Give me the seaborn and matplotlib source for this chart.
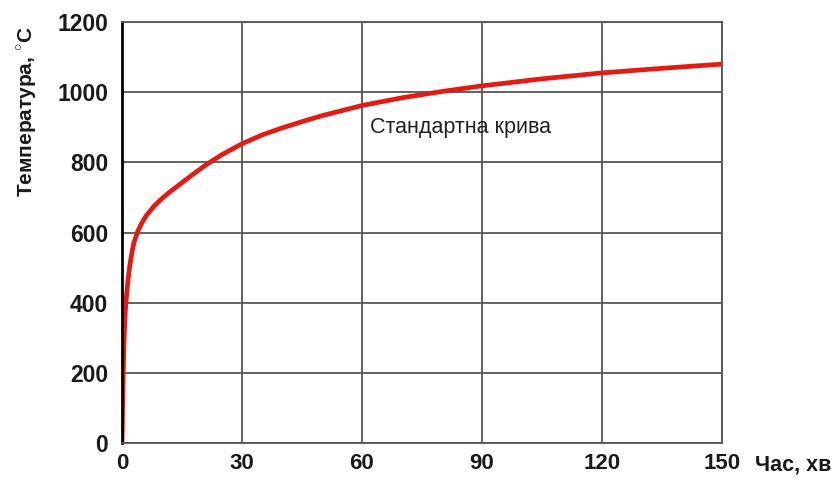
import matplotlib
matplotlib.use("Agg")
import matplotlib.pyplot as plt
import seaborn as sns
import pandas as pd
from matplotlib.ticker import MultipleLocator

time_min = [0, 0.25, 0.5, 0.75, 1, 1.5, 2, 2.5, 3, 4, 5, 6, 8, 10, 12, 15, 18, 21, 25, 30,
            35, 40, 45, 50, 60, 70, 80, 90, 105, 120, 135, 150]
temperature = [0, 170, 290, 360, 405, 465, 510, 545, 572, 605, 628, 647, 675, 697, 716, 742, 768, 793, 822, 853,
               878, 898, 916, 933, 962, 984, 1002, 1018, 1038, 1055, 1068, 1080]
x_ticks = [0, 30, 60, 90, 120, 150]
y_ticks = [0, 200, 400, 600, 800, 1000, 1200]
curve_label = "Стандартна крива"
x_label = "Час, хв"
y_label = "Температура, $^{\\circ}$C"

df = pd.DataFrame({"t": time_min, "T": temperature})

sns.set_style("white")
plt.rcParams["font.family"] = ["Liberation Sans", "DejaVu Sans"]
plt.rcParams["mathtext.fontset"] = "custom"
plt.rcParams["mathtext.rm"] = "Liberation Sans"
plt.rcParams["mathtext.bf"] = "Liberation Sans:bold"

fig = plt.figure(figsize=(8.39, 4.80), dpi=100)
ax = fig.add_axes([122 / 839, 1 - 443 / 480, 600 / 839, 421 / 480])

ax.grid(True, color="#555555", linewidth=1.3)
ax.set_axisbelow(True)
sns.lineplot(data=df, x="t", y="T", ax=ax, color="#e41b13", linewidth=3.4,
             solid_joinstyle="round", solid_capstyle="round")

ax.set_xlim(0, 150)
ax.set_ylim(0, 1200)
ax.set_xticks(x_ticks)
ax.set_yticks(y_ticks)
ax.xaxis.set_minor_locator(MultipleLocator(5))
ax.yaxis.set_minor_locator(MultipleLocator(40))
ax.tick_params(axis="both", which="major", labelsize=16.5, length=7, width=1.2, color="#555555", pad=3)
ax.tick_params(axis="x", which="major", labelsize=16, length=5, pad=2)
ax.tick_params(axis="x", which="minor", direction="in", length=4, width=1, color="#777777")
ax.tick_params(axis="y", which="minor", direction="in", length=3, width=1, color="#777777")
for lab in ax.get_xticklabels() + ax.get_yticklabels():
    lab.set_fontweight("bold")
    lab.set_color("#1a1a1a")

for side in ["top", "right", "bottom"]:
    ax.spines[side].set_visible(True)
    ax.spines[side].set_color("#555555")
    ax.spines[side].set_linewidth(1.3)
ax.spines["left"].set_color("black")
ax.spines["left"].set_linewidth(2)

ax.set_xlabel("")
ax.set_ylabel("")
fig.text(755 / 839, 1 - 465 / 480, x_label, ha="left", va="center",
         fontsize=15.5, fontweight="bold", color="#1a1a1a")
fig.text(27 / 839, 1 - 112 / 480, y_label, ha="center", va="center", rotation=90,
         fontsize=15, fontweight="bold", color="#1a1a1a")

ax.text(62, 900, curve_label, fontsize=15.5, color="#222222", ha="left", va="center")

fig.savefig("out.png", dpi=100)
